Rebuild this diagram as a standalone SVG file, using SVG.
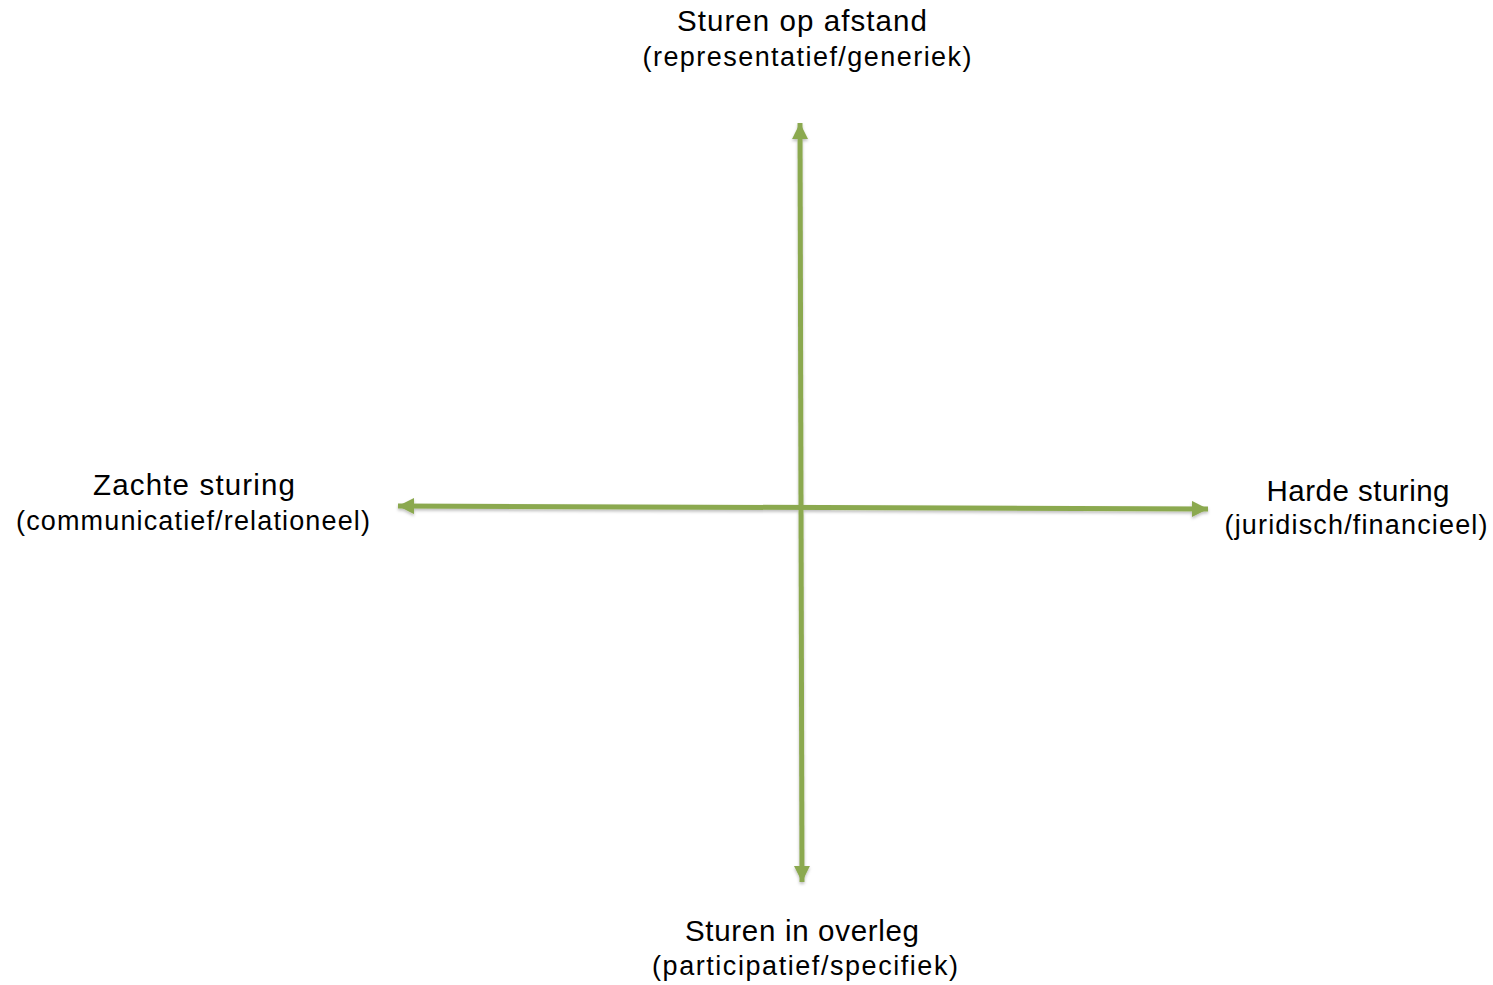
<svg xmlns="http://www.w3.org/2000/svg" width="1493" height="985" viewBox="0 0 1493 985">
<style>
.t{font-family:"Liberation Sans",Arial,sans-serif;fill:#000;text-anchor:middle}
.h{font-size:29.5px}
.s{font-size:27px}
.ax{stroke:#8BA950;stroke-width:5;fill:none}
</style>
<defs>
<marker id="ah" markerUnits="userSpaceOnUse" markerWidth="18" markerHeight="16" refX="16" refY="8" orient="auto-start-reverse">
<path d="M0,0 L16,8 L0,16 Z" fill="#8BA950"/>
</marker>
<filter id="sh" x="-5%" y="-5%" width="110%" height="110%">
<feDropShadow dx="0" dy="2" stdDeviation="1.5" flood-color="#000" flood-opacity="0.25"/>
</filter>
</defs>
<rect width="1493" height="985" fill="#fff"/>
<g id="connectors" filter="url(#sh)">
<line class="ax" x1="800" y1="123" x2="802" y2="882" marker-start="url(#ah)" marker-end="url(#ah)"/>
<line class="ax" x1="398" y1="506" x2="1208" y2="509" marker-start="url(#ah)" marker-end="url(#ah)"/>
</g>
<g id="top">
<text class="t h" x="802" y="31" textLength="250" lengthAdjust="spacing">Sturen op afstand</text>
<text class="t s" x="807" y="66" textLength="329" lengthAdjust="spacing">(representatief/generiek)</text>
</g>
<g id="left">
<text class="t h" x="194" y="495" textLength="202" lengthAdjust="spacing">Zachte sturing</text>
<text class="t s" x="193" y="530" textLength="354" lengthAdjust="spacing">(communicatief/relationeel)</text>
</g>
<g id="right">
<text class="t h" x="1358" y="501" textLength="183" lengthAdjust="spacing">Harde sturing</text>
<text class="t s" x="1356" y="534" textLength="263" lengthAdjust="spacing">(juridisch/financieel)</text>
</g>
<g id="bottom">
<text class="t h" x="802" y="941" textLength="234" lengthAdjust="spacing">Sturen in overleg</text>
<text class="t s" x="805" y="975" textLength="306" lengthAdjust="spacing">(participatief/specifiek)</text>
</g>
</svg>
